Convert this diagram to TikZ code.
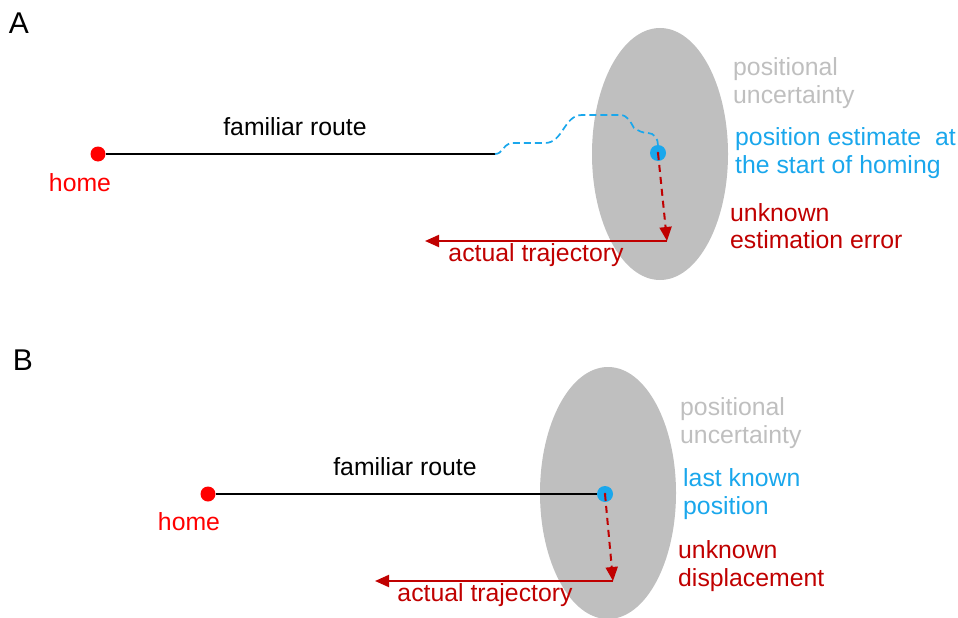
\documentclass[tikz,border=0pt]{standalone}
\usepackage{fontspec}
\setmainfont{Liberation Sans}
\usetikzlibrary{arrows.meta}
\definecolor{ugray}{HTML}{BFBFBF}
\definecolor{ublue}{HTML}{1AA7EC}
\definecolor{dred}{HTML}{C00000}
\definecolor{hred}{HTML}{FF0000}
\begin{document}
\begin{tikzpicture}[x=1pt,y=-1pt,
  lbl/.style={font=\fontsize{24.8}{27.5}\selectfont, inner sep=0pt},
  side/.style={lbl, anchor=west, align=left},
  panel/.style={font=\fontsize{30}{34}\selectfont, inner sep=0pt},
  homedot/.style={circle, fill=hred, minimum size=15pt, inner sep=0pt},
  bluedot/.style={circle, fill=ublue, minimum size=16pt, inner sep=0pt, path picture={\fill[dred] (path picture bounding box.center) circle (1.3pt);}},
  route/.style={line width=1.3pt, black},
  wander/.style={ublue, line width=1.7pt, dash pattern=on 7pt off 4pt},
  err/.style={dred, line width=2pt, dash pattern=on 7pt off 5pt, -{Triangle[length=14pt,width=12pt]}},
  traj/.style={dred, line width=2pt, -{Triangle[length=14pt,width=12pt]}}
]
\useasboundingbox (0,0) rectangle (958,618);
% ---------- Panel A ----------
\fill[ugray] (660,154) ellipse [x radius=68, y radius=126];
\node[panel] (labA) at (19,23) {A};
\node[homedot] (homeA) at (98,154) {};
\coordinate (routeEndA) at (495,154);
\node[bluedot] (estA) at (658,153) {};
\coordinate (errEndA) at (667,241);
\coordinate (trajEndA) at (425,241);
\draw[route] (homeA) -- (routeEndA);
\draw[wander] (routeEndA) to[out=0,in=200] (510,143) -- (545,143) to[out=0,in=180] (582,115) -- (620,115) to[out=0,in=120] (634,128) to[out=-30,in=180] (648,133) to[out=0,in=90] (estA.north);
\draw[err] (estA.center) -- (errEndA);
\draw[traj] (errEndA) -- (trajEndA);
\node[lbl] (frA) at (295,127) {familiar route};
\node[lbl, text=hred] (hmA) at (80,183) {home};
\node[lbl, text=dred] (atA) at (536,255) {actual trajectory};
\node[side, text=ugray] (puA) at (733,83) {positional\\uncertainty};
\node[side, text=ublue] (peA) at (735,153) {position estimate\ \ at\\the start of homing};
\node[side, text=dred] (ueA) at (730,226) {unknown\\estimation error};
% ---------- Panel B ----------
\fill[ugray] (608,493) ellipse [x radius=68, y radius=126];
\node[panel] (labB) at (23,360) {B};
\node[homedot] (homeB) at (208,494) {};
\node[bluedot] (estB) at (605,494) {};
\coordinate (errEndB) at (613,581);
\coordinate (trajEndB) at (375,581);
\draw[route] (homeB) -- (estB);
\draw[err] (estB.center) -- (errEndB);
\draw[traj] (errEndB) -- (trajEndB);
\node[lbl] (frB) at (405,467) {familiar route};
\node[lbl, text=hred] (hmB) at (189,522) {home};
\node[lbl, text=dred] (atB) at (485,595) {actual trajectory};
\node[side, text=ugray] (puB) at (680,423) {positional\\uncertainty};
\node[side, text=ublue] (lkB) at (683,494) {last known\\position};
\node[side, text=dred] (udB) at (678,566) {unknown\\displacement};
\end{tikzpicture}
\end{document}
